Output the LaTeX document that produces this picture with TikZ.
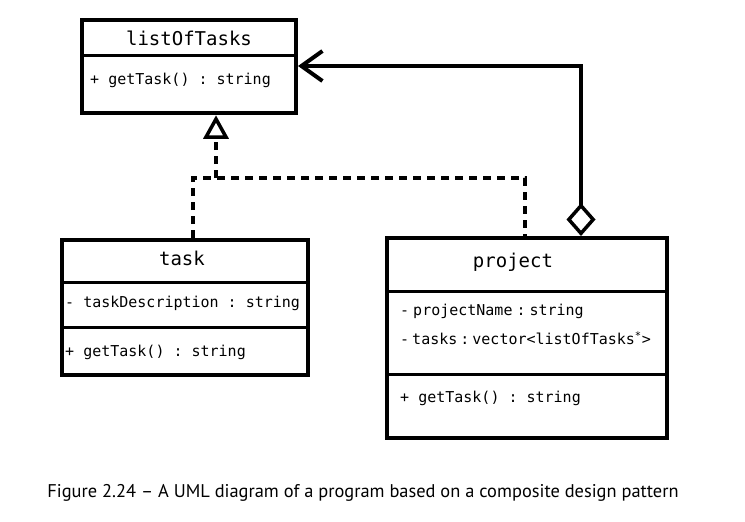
\documentclass[tikz,border=0pt]{standalone}
\usepackage{fontspec}
\setmainfont{PT Sans}
\setmonofont{DejaVu Sans Mono}
\usetikzlibrary{arrows.meta}
\begin{document}
\begin{tikzpicture}[x=1pt,y=-1pt,
  classbox/.style={draw, line width=4pt, inner sep=0pt},
  divider/.style={line width=3pt},
  ctitle/.style={inner sep=0pt, font=\ttfamily\fontsize{19}{22}\selectfont},
  member/.style={inner sep=0pt, anchor=west, font=\ttfamily\fontsize{15}{18}\selectfont},
  dashline/.style={line width=4pt, dash pattern=on 8pt off 6pt},
  solidline/.style={line width=4pt},
  tritip/.style={draw, line width=3.5pt, line join=miter, fill=white}]
\fill[white] (0,0) rectangle (745,522);
\useasboundingbox (0,0) rectangle (745,522);

% listOfTasks
\node[classbox, minimum width=214pt, minimum height=93pt] (lot) at (189,66.5) {};
\draw[divider] (lot.west |- 0,55) -- (lot.east |- 0,55);
\node[ctitle] (lotname) at (189,38) {listOfTasks};
\node[member] (lotop) at (90,80) {+ getTask() : string};

% task
\node[classbox, minimum width=246pt, minimum height=135pt] (task) at (185,307.5) {};
\draw[divider] (task.west |- 0,282) -- (task.east |- 0,282);
\draw[divider] (task.west |- 0,327) -- (task.east |- 0,327);
\node[ctitle] (taskname) at (182,258) {task};
\node[member] (taskattr) at (65,303) {- taskDescription : string};
\node[member] (taskop) at (65,352) {+ getTask() : string};

% project
\node[classbox, minimum width=280pt, minimum height=200pt] (project) at (527,338) {};
\draw[divider] (project.west |- 0,291) -- (project.east |- 0,291);
\draw[divider] (project.west |- 0,374) -- (project.east |- 0,374);
\node[ctitle] (projname) at (513,262) {project};
\node[member] (projattr1) at (400,311) {-\hspace{4pt}projectName\hspace{4pt}:\hspace{4pt}string};
\node[member] (projattr2) at (400,338) {-\hspace{3pt}tasks\hspace{3pt}:\hspace{3pt}vector<listOfTasks\textsuperscript{*}>};
\node[member] (projop) at (400,398) {+ getTask() : string};

% realization connectors
\coordinate (tk) at (193,178);
\coordinate (pj) at (525,178);
\coordinate (jn) at (216,178);
\coordinate (tribase) at (216,137);
\coordinate (tritop) at (216,119);
\draw[dashline] (task.north -| tk) -- (tk) -- (pj) -- (project.north -| pj);
\draw[dashline] (jn) -- (tribase);
\draw[tritip] (tritop) -- (206,137) -- (226,137) -- cycle;

% aggregation
\coordinate (ag) at (581,66);
\draw[solidline, {Diamond[open, length=33pt, width=29pt, line width=3.5pt]}-{Straight Barb[length=21pt, width=30pt]}]
  (project.north -| ag) -- (ag) -- (lot.east |- ag);

% caption
\node[inner sep=0pt] (cap) at (363,493) {\fontsize{18.4}{22}\selectfont Figure 2.24 – A UML diagram of a program based on a composite design pattern};
\end{tikzpicture}
\end{document}
